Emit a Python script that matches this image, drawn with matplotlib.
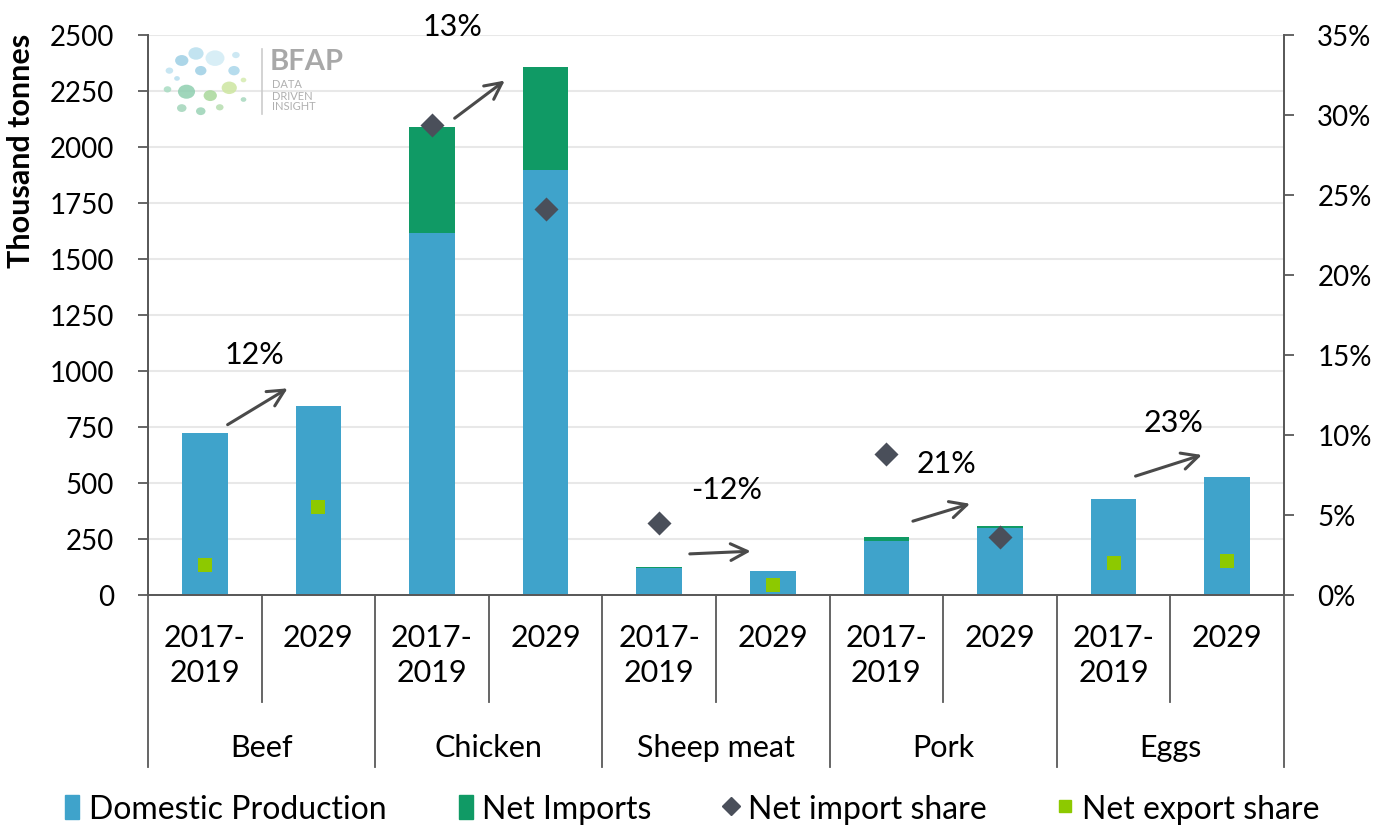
import matplotlib
matplotlib.use("Agg")
import matplotlib.pyplot as plt
import matplotlib.transforms as mtransforms
from matplotlib.patches import Circle, Patch
from matplotlib.lines import Line2D
import numpy as np

plt.rcParams['font.family'] = ['Lato', 'DejaVu Sans']

groups = ["Beef", "Chicken", "Sheep meat", "Pork", "Eggs"]
periods = ["2017-\n2019", "2029"]
domestic = [723, 844, 1616, 1898, 121, 107, 240, 298, 428, 528]
net_imports = [0, 0, 473, 459, 2, 0, 20, 12, 0, 0]
import_share = [np.nan, np.nan, 29.4, 24.1, 4.5, np.nan, 8.8, 3.6, np.nan, np.nan]
export_share = [1.9, 5.5, np.nan, np.nan, np.nan, 0.65, np.nan, np.nan, 2.0, 2.1]
growth_labels = ["12%", "13%", "-12%", "21%", "23%"]
# arrow start/end (x in bar index, y in thousand tonnes), label position
arrow_start = [(0.18, 754), (2.18, 2121), (4.245, 183), (6.21, 326), (8.17, 527)]
arrow_end = [(0.75, 929), (2.66, 2304), (4.83, 196), (6.76, 411), (8.80, 629)]
label_pos = [(0.44, 1076), (2.18, 2540), (4.59, 475), (6.53, 588), (8.53, 772)]

c_dom = "#3FA3CB"
c_imp = "#109A65"
c_dia = "#4A4F5A"
c_sq = "#8DC900"
spine_c = "#595959"
FS = 22

fig = plt.figure(figsize=(13.96, 8.28), dpi=100)
ax = fig.add_axes([148/1396, 1-596/828, (1284-148)/1396, (596-36)/828])
ax2 = ax.twinx()

x = np.arange(len(domestic))
w = 0.40
ax.bar(x, domestic, w, color=c_dom, zorder=2)
ax.bar(x, net_imports, w, bottom=domestic, color=c_imp, zorder=2)
ax.set_xlim(-0.5, len(domestic) - 0.5)
ax.set_ylim(0, 2500)
ax.set_yticks(np.arange(0, 2501, 250))
ax.yaxis.grid(True, color="#E8E8E8", linewidth=1.5, zorder=0)
ax.set_axisbelow(True)
ax.set_xticks([])
ax.tick_params(axis='y', labelsize=20, length=7.5, width=1.3, color=spine_c, pad=17)
ax.set_ylabel("Thousand tonnes", fontsize=FS, fontweight='bold')
ax.yaxis.set_label_coords((35 - 148) / 1136, 0.795)

ax2.set_ylim(0, 35)
ax2.set_yticks(np.arange(0, 36, 5))
ax2.set_yticklabels([f"{v}%" for v in range(0, 36, 5)])
ax2.tick_params(axis='y', labelsize=20, length=7.5, width=1.3, color=spine_c, pad=16.5)
ax2.scatter(x, import_share, marker='D', s=150, color=c_dia, zorder=5, linewidths=0)
ax2.scatter(x, export_share, marker='s', s=110, color=c_sq, zorder=5, linewidths=0)

for a in (ax, ax2):
    a.spines['top'].set_visible(False)
    for s in ('left', 'right', 'bottom'):
        a.spines[s].set_color(spine_c)
        a.spines[s].set_linewidth(1.3)

# growth arrows and labels
for st, en, lp, lab in zip(arrow_start, arrow_end, label_pos, growth_labels):
    ax.annotate("", xy=en, xytext=st,
                arrowprops=dict(arrowstyle="->", color="#4A4A4A", lw=2.2,
                                mutation_scale=30), annotation_clip=False)
    ax.text(lp[0], lp[1], lab, fontsize=FS, ha='center', va='center', clip_on=False)

# multi-level x-axis
trans = mtransforms.blended_transform_factory(ax.transData, fig.transFigure)
y0 = 1 - 596/828
for i in range(len(domestic) + 1):
    xb = i - 0.5
    y1 = 1 - (768 if i % 2 == 0 else 703) / 828
    fig.add_artist(Line2D([xb, xb], [y0, y1], transform=trans, color=spine_c, lw=1.3))
for i in range(len(domestic)):
    fig.text(i, 1 - 624/828, periods[i % 2], transform=trans, ha='center', va='top',
             fontsize=FS, linespacing=1.3)
for g, name in enumerate(groups):
    fig.text(2*g + 0.5, 1 - 748/828, name, transform=trans, ha='center', va='center', fontsize=FS)

# legend
handles = [Patch(color=c_dom), Patch(color=c_imp),
           Line2D([], [], marker='D', color=c_dia, ls='none', markersize=9),
           Line2D([], [], marker='s', color=c_sq, ls='none', markersize=8)]
labels = ["Domestic Production", "Net Imports", "Net import share", "Net export share"]
fig.legend(handles, labels, loc='center', bbox_to_anchor=(0.496, 1 - 810/828), ncol=4,
           frameon=False, fontsize=23, handlelength=0.45, handletextpad=0.3,
           columnspacing=2.25, handleheight=0.8, borderpad=0.2)

# logo (decorative)
lax = fig.add_axes([158/1396, 1-120/828, 95/1396, 78/828])
lax.set_xlim(0, 1); lax.set_ylim(0, 1); lax.axis('off')
blobs = [(0.25, 0.75, 0.07, "#9ECFE5"), (0.4, 0.84, 0.08, "#B8DFEE"), (0.6, 0.78, 0.1, "#D2ECF5"),
         (0.8, 0.62, 0.06, "#A9D6EA"), (0.12, 0.62, 0.04, "#BFE2F0"), (0.45, 0.62, 0.06, "#9ECFE5"),
         (0.3, 0.35, 0.09, "#8FCFB0"), (0.55, 0.3, 0.07, "#A8D89A"), (0.75, 0.4, 0.08, "#CDE6A0"),
         (0.1, 0.38, 0.04, "#A8DCC2"), (0.45, 0.1, 0.05, "#9AD3B5"), (0.65, 0.15, 0.04, "#B6DDB0"),
         (0.25, 0.14, 0.05, "#A2D5BA"), (0.9, 0.5, 0.03, "#D5EBB0"), (0.82, 0.82, 0.04, "#C5E5F2"),
         (0.2, 0.52, 0.03, "#B5DDEE"), (0.9, 0.25, 0.03, "#A7D8BE")]
for bx, by, r, c in blobs:
    lax.add_patch(Circle((bx, by), r, color=c, alpha=0.85, lw=0))
fig.add_artist(Line2D([262/1396, 262/1396], [1-50/828, 1-115/828], color="#CCCCCC", lw=1.2))
fig.text(270/1396, 1-62/828, "BFAP", fontsize=21, color="#A8A8A8", fontweight='bold', va='center')
fig.text(272/1396, 1-96/828, "DATA\nDRIVEN\nINSIGHT", fontsize=8, color="#B0B0B0",
         va='center', linespacing=1.0)

fig.savefig("out.png", dpi=100)
